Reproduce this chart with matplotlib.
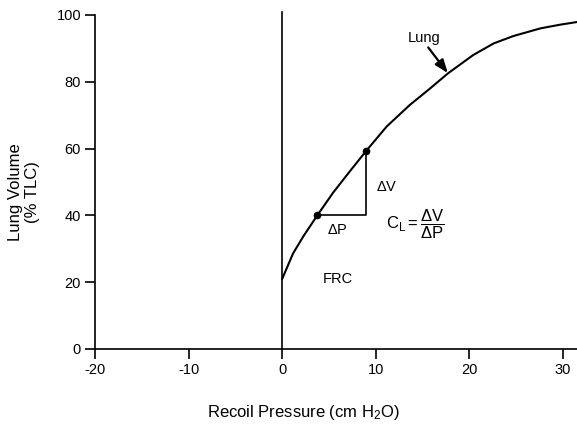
import matplotlib
matplotlib.use('Agg')
import matplotlib.pyplot as plt

plt.rcParams['font.family'] = ['Liberation Sans', 'DejaVu Sans']
plt.rcParams['mathtext.fontset'] = 'custom'
plt.rcParams['mathtext.rm'] = 'Liberation Sans'
plt.rcParams['mathtext.it'] = 'Liberation Sans'

# pressure-volume curve
pressure = [0, 1.16, 2.23, 3.75, 5.44, 7.23, 9.0, 11.16, 13.65, 15.8,
            17.7, 20.4, 22.6, 24.7, 27.6, 29.7, 31.5]
volume = [21.0, 28.6, 33.6, 40.0, 46.8, 53.2, 59.4, 66.6, 73.1, 78.0,
          82.5, 88.0, 91.5, 93.7, 96.0, 97.1, 97.9]

# compliance triangle
p_lo, v_lo = 3.75, 40.0
p_hi, v_hi = 9.0, 59.4

xticks = [-20, -10, 0, 10, 20, 30]
yticks = [0, 20, 40, 60, 80, 100]

fig = plt.figure(figsize=(5.77, 4.26), dpi=100)
ax = fig.add_axes([95 / 577, 77 / 426, (577 - 95) / 577, (349 - 15) / 426])

ax.plot(pressure, volume, color='black', lw=1.5, clip_on=False,
        solid_joinstyle='round')
ax.plot([0, 0], [0, 101], color='black', lw=1.2, clip_on=False)
ax.plot([p_lo, p_hi, p_hi], [v_lo, v_lo, v_hi], color='black', lw=1.2)
ax.plot([p_lo, p_hi], [v_lo, v_hi], 'o', color='black', ms=4.5)

ax.set_xlim(-20, 31.5)
ax.set_ylim(0, 100)
ax.set_xticks(xticks)
ax.set_yticks(yticks)
ax.set_xticklabels(['-20', '-10', '0', '10', '20', '30'])
ax.tick_params(direction='out', length=7, width=1.2, pad=3, labelsize=10.5)
for s in ['top', 'right']:
    ax.spines[s].set_visible(False)
for s in ['left', 'bottom']:
    ax.spines[s].set_linewidth(1.2)

ax.text(15.2, 93.1, 'Lung', fontsize=10.5, ha='center', va='center')
ax.annotate('', xy=(17.7, 82.6), xytext=(15.6, 90.3),
            arrowprops=dict(arrowstyle='-|>,head_length=0.8,head_width=0.3',
                            color='black', lw=1.6,
                            mutation_scale=10, shrinkA=0, shrinkB=0))
ax.text(11.15, 48.5, r'$\Delta$V', fontsize=10.5, ha='center', va='center')
ax.text(5.9, 35.6, r'$\Delta$P', fontsize=10.5, ha='center', va='center')
ax.text(11.1, 37.2, r'$\mathrm{C_L = \dfrac{\Delta V}{\Delta P}}$', fontsize=12,
        ha='left', va='center')
ax.text(5.9, 21.0, 'FRC', fontsize=10.5, ha='center', va='center')

fig.text(303 / 577, 1 - 412 / 426, r'Recoil Pressure (cm H$_2$O)',
         fontsize=12, ha='center', va='center')
fig.text(24 / 577, 1 - 192 / 426, 'Lung Volume\n(% TLC)', fontsize=12,
         rotation=90, ha='center', va='center', linespacing=1.15,
         multialignment='center')

fig.savefig('out.png', dpi=100)
